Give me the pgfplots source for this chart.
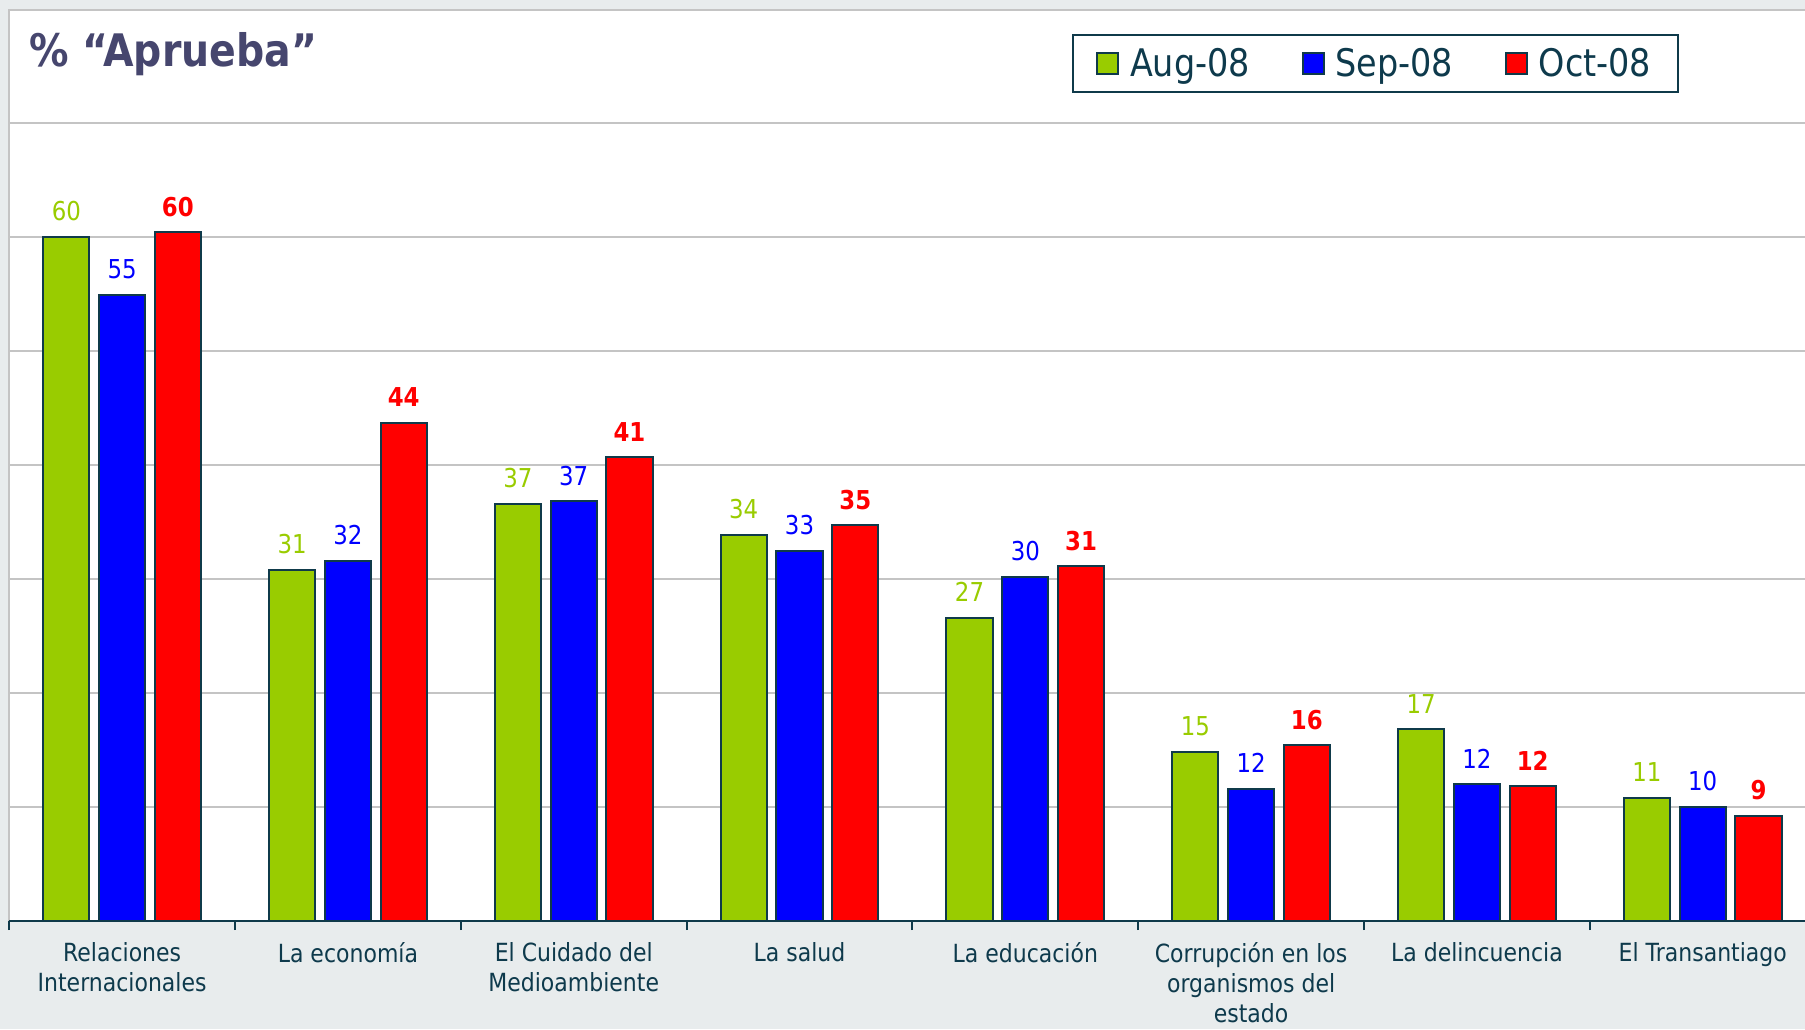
\documentclass[border=0pt]{standalone}
\usepackage{pgfplots}
\pgfplotsset{compat=1.18}
\usepackage{fontspec}
\setmainfont[FakeStretch=0.88]{DejaVu Sans}
\definecolor{cgreen}{HTML}{99CC00}
\definecolor{cblue}{HTML}{0000FF}
\definecolor{cred}{HTML}{FF0000}
\definecolor{edge}{HTML}{0F3A4A}
\definecolor{tickc}{HTML}{0E3A4C}
\definecolor{titlec}{HTML}{46466E}
\definecolor{bg}{HTML}{E8ECED}
\definecolor{gridc}{HTML}{C4C4C4}
\begin{document}
\begin{tikzpicture}
\useasboundingbox (0,0) rectangle (902.5pt,514.5pt);
\fill[bg] (0,0) rectangle (902.5pt,514.5pt);
\fill[white] (4.6pt,54pt) rectangle (902.5pt,509.5pt);
\draw[gridc, line width=1pt] (4.6pt,54pt) -- (4.6pt,509.5pt) -- (903pt,509.5pt);
\node[anchor=base west, inner sep=0pt, text=titlec, font=\fontsize{22.4}{28}\selectfont\bfseries] at (14.4pt,481.1pt) {\% “Aprueba”};
\begin{axis}[
  at={(4.6pt,54pt)}, anchor=south west,
  width=897.9pt, height=399pt, scale only axis,
  xmin=-0.5, xmax=7.453, ymin=0, ymax=70,
  ybar, bar width=0.205, bar shift=0pt,
  axis lines*=left,
  axis line style={-},
  x axis line style={draw=edge, line width=1.2pt},
  y axis line style={draw=none},
  ytick={10,20,...,70}, yticklabels={}, ymajorgrids,
  grid style={gridc, line width=1.1pt},
  ytick style={draw=none},
  xtick={0,...,7},
  xticklabels={{Relaciones\\Internacionales},{La economía},{El Cuidado del\\Medioambiente},{La salud},{La educación},{Corrupción en los\\organismos del\\estado},{La delincuencia},{El Transantiago}},
  major tick length=0pt,
  minor xtick={-0.5,0.5,...,6.5},
  minor tick length=4.5pt,
  tick align=outside,
  minor tick style={draw=edge, line width=1pt},
  xticklabel style={font=\fontsize{12.5}{14.8}\selectfont, text=tickc, align=center, inner sep=0pt, yshift=-10.8pt},
  point meta=explicit symbolic,
  nodes near coords,
  every node near coord/.append style={inner sep=0pt, anchor=south, yshift=7.5pt, font=\fontsize{13}{15}\selectfont},
  legend columns=3,
  legend image code/.code={\draw[#1, draw=edge, line width=0.9pt] (0pt,-5.2pt) rectangle (10.4pt,5.2pt);},
  legend style={at={(0.761,1.0746)}, anchor=center, draw=edge, line width=1pt, fill=white,
    font=\fontsize{19}{22}\selectfont, text=tickc, inner xsep=11.5pt, inner ysep=4.5pt,
    nodes={inner sep=2pt},
    /tikz/every even column/.append style={column sep=24pt},
    /tikz/every odd column/.append style={column sep=3.5pt}},
]
\addplot[fill=cgreen, draw=edge, line width=1pt, every node near coord/.append style={text=cgreen}] coordinates {
  (-0.247,60.0) [60] (0.753,30.8) [31] (1.753,36.6) [37] (2.753,33.9) [34]
  (3.753,26.6) [27] (4.753,14.8) [15] (5.753,16.8) [17] (6.753,10.8) [11]
};
\addplot[fill=cblue, draw=edge, line width=1pt, every node near coord/.append style={text=cblue}] coordinates {
  (0,54.9) [55] (1,31.6) [32] (2,36.8) [37] (3,32.5) [33]
  (4,30.2) [30] (5,11.6) [12] (6,12.0) [12] (7,10.0) [10]
};
\addplot[fill=cred, draw=edge, line width=1pt, every node near coord/.append style={text=cred, font=\fontsize{13}{15}\selectfont\bfseries}] coordinates {
  (0.247,60.4) [60] (1.247,43.7) [44] (2.247,40.7) [41] (3.247,34.7) [35]
  (4.247,31.1) [31] (5.247,15.4) [16] (6.247,11.8) [12] (7.247,9.2) [9]
};
\legend{Aug-08,Sep-08,Oct-08}
\end{axis}
\end{tikzpicture}
\end{document}
